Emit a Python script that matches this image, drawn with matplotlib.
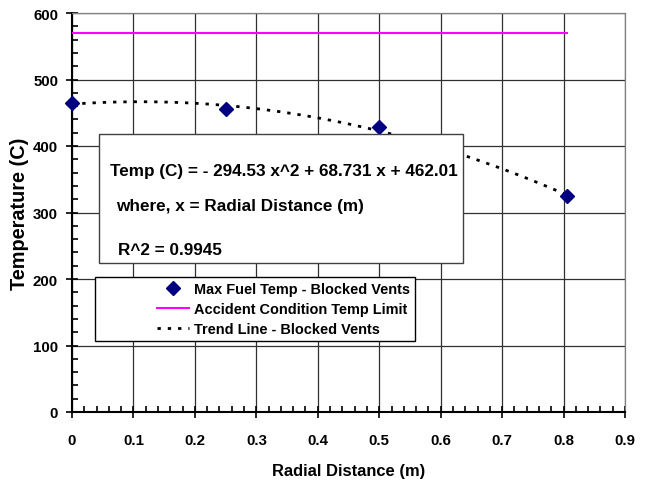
import matplotlib.pyplot as plt
import numpy as np
from matplotlib import font_manager
from matplotlib.patches import Rectangle
from matplotlib.lines import Line2D
from matplotlib.ticker import MultipleLocator

plt.rcParams['font.family'] = ['Liberation Sans', 'DejaVu Sans']
plt.rcParams['font.weight'] = 'bold'

# the chart text looks like a narrow Arial; use the narrow face if present
installed = {f.name for f in font_manager.fontManager.ttflist}
if 'Liberation Sans Narrow' in installed:
    narrow = ['Liberation Sans Narrow', 'Liberation Sans', 'DejaVu Sans']
    k = 1.0
else:
    narrow = ['Liberation Sans', 'DejaVu Sans']
    k = 0.82

# data
radial_dist = [0.0, 0.25, 0.5, 0.805]
max_fuel_temp = [465, 455, 428, 325]
limit_x = [0.0, 0.805]
limit_temp = [570, 570]

# quadratic trend line fitted through the points
coef = np.polyfit(radial_dist, max_fuel_temp, 2)
trend_x = np.linspace(0, radial_dist[-1], 100)
trend_y = np.polyval(coef, trend_x)

fig = plt.figure(figsize=(6.47, 4.85), dpi=100)
ax = fig.add_axes([72 / 647, 1 - 413 / 485, 553 / 647, 399 / 485])

ax.plot(limit_x, limit_temp, color='#ff00ff', lw=1.5, zorder=3)
ax.plot(trend_x, trend_y, color='black', lw=2, ls=(0, (1.2, 2.5)), zorder=3)
ax.plot(radial_dist, max_fuel_temp, ls='none', marker='D', ms=7,
        color='#000080', zorder=4, clip_on=False)

ax.set_xlim(0, 0.9)
ax.set_ylim(0, 600)
ax.set_xticks(np.arange(0, 0.91, 0.1))
ax.set_xticklabels(['0', '0.1', '0.2', '0.3', '0.4', '0.5', '0.6', '0.7', '0.8', '0.9'])
ax.set_yticks(range(0, 601, 100))
ax.xaxis.set_minor_locator(MultipleLocator(0.02))
ax.yaxis.set_minor_locator(MultipleLocator(20))
ax.grid(True, which='major', color='#303030', lw=0.9)
ax.tick_params(which='major', direction='inout', length=8, width=1.2,
               labelsize=10.8)
ax.tick_params(axis='y', which='major', pad=6)
ax.tick_params(axis='x', which='major', pad=11)
ax.tick_params(which='minor', direction='in', length=4, width=1.2)
for s in ['top', 'right']:
    ax.spines[s].set_color('#808080')
    ax.spines[s].set_linewidth(0.9)
for s in ['left', 'bottom']:
    ax.spines[s].set_linewidth(1.5)

ax.set_xlabel('Radial Distance (m)', fontsize=14.5 * k, family=narrow,
              fontweight='bold', labelpad=12)
ax.set_ylabel('Temperature (C)', fontsize=14.3, fontweight='bold', labelpad=3)

# equation box
fig.patches.append(Rectangle((99 / 647, 1 - 264 / 485), 364 / 647, 129 / 485,
                             transform=fig.transFigure, facecolor='white',
                             edgecolor='#404040', lw=1, zorder=5))
eq_size = 15 * k
fig.text(110 / 647, 1 - 176 / 485, 'Temp (C) = - 294.53 x^2 + 68.731 x + 462.01',
         fontsize=eq_size, family=narrow, fontweight='bold', va='baseline', zorder=6)
fig.text(116.5 / 647, 1 - 211.5 / 485, 'where, x = Radial Distance (m)',
         fontsize=eq_size, family=narrow, fontweight='bold', va='baseline', zorder=6)
fig.text(117.5 / 647, 1 - 255 / 485, 'R^2 = 0.9945',
         fontsize=eq_size, family=narrow, fontweight='bold', va='baseline', zorder=6)

# legend box
fig.patches.append(Rectangle((95 / 647, 1 - 342 / 485), 320 / 647, 64 / 485,
                             transform=fig.transFigure, facecolor='white',
                             edgecolor='black', lw=1, zorder=5))
handles = [
    Line2D([], [], ls='none', marker='D', ms=7, color='#000080'),
    Line2D([], [], color='#ff00ff', lw=1.5),
    Line2D([], [], color='black', lw=2, ls=(0, (1.2, 2.5))),
]
labels = ['Max Fuel Temp - Blocked Vents', 'Accident Condition Temp Limit',
          'Trend Line - Blocked Vents']
leg_size = 12.7 * k
leg = fig.legend(handles, labels, loc='center left',
                 bbox_to_anchor=(157 / 647, 1 - 310 / 485), frameon=False,
                 prop={'size': leg_size, 'weight': 'bold', 'family': narrow},
                 handlelength=32 / (leg_size * 1.389),
                 handletextpad=5 / (leg_size * 1.389),
                 labelspacing=0.4, borderpad=0, borderaxespad=0)
leg.set_zorder(7)

fig.savefig('out.png', dpi=100)
